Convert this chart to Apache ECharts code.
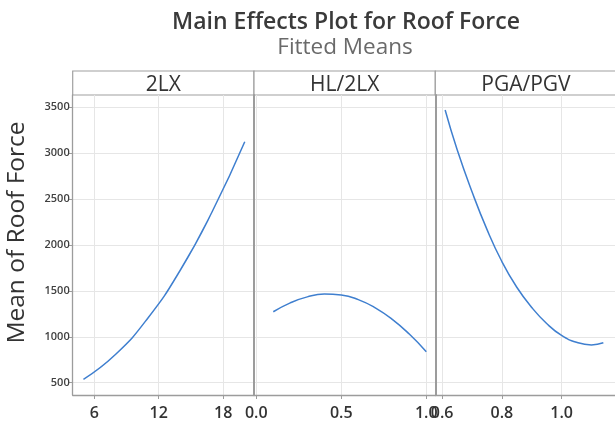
<!DOCTYPE html>
<html><head><meta charset="utf-8">
<script src="https://cdn.jsdelivr.net/npm/echarts@6/dist/echarts.min.js"></script>
<style>html,body{margin:0;padding:0;background:#fff}#c{width:615px;height:421px}</style>
</head><body><div id="c"></div>
<script>
// ---- data ----
const titleText = 'Main Effects Plot for Roof Force';
const subtitleText = 'Fitted Means';
const yAxisTitle = 'Mean of Roof Force';
const panelNames = ['2LX', 'HL/2LX', 'PGA/PGV'];
const yTicks = [500, 1000, 1500, 2000, 2500, 3000, 3500];

const x2LX = [5, 8, 11, 14, 17, 20];
const y2LX = [537, 810, 1205, 1725, 2370, 3125];
const xTicks2LX = [6, 12, 18];

const xHL = [0.1, 0.2, 0.3, 0.4, 0.5, 0.6, 0.7, 0.8, 0.9, 1.0];
const yHL = [1273, 1370, 1435, 1465, 1455, 1405, 1315, 1190, 1030, 838];
const xTicksHL = [0.0, 0.5, 1.0];

const xPGA = [0.61, 0.65, 0.70, 0.75, 0.80, 0.85, 0.90, 0.95, 1.00, 1.05, 1.10, 1.14];
const yPGA = [3470, 3040, 2580, 2170, 1820, 1540, 1320, 1145, 1015, 940, 912, 935];
const xTicksPGA = [0.6, 0.8, 1.0];

// ---- layout ----
const FONT = '"Open Sans", "Noto Sans", sans-serif';
const gridTop = 95, gridH = 300, panelW = 181.3;
const panelLeft = [72.7, 254, 435.3];
const xRanges = [[4.0, 20.86], [-0.0135, 1.053], [0.577, 1.179]];
const yMin = 366, yMax = 3634;
const xTickSets = [xTicks2LX, xTicksHL, xTicksPGA];
const xFmt = [v => String(Math.round(v)), v => v.toFixed(1), v => v.toFixed(1)];
const seriesXY = [[x2LX, y2LX], [xHL, yHL], [xPGA, yPGA]];

const gridLine = { show: true, lineStyle: { color: '#e6e6e6', width: 1 } };
const axisCol = '#9c9c9c';

const grids = [], xAxes = [], yAxes = [], series = [];
for (let i = 0; i < 3; i++) {
  grids.push({ left: panelLeft[i], top: gridTop, width: panelW, height: gridH, containLabel: false });
  xAxes.push({
    type: 'value', gridIndex: i, min: xRanges[i][0], max: xRanges[i][1],
    axisLine: { show: true, onZero: false, lineStyle: { color: axisCol, width: 1.3 } },
    axisTick: { show: true, length: 4, customValues: xTickSets[i], lineStyle: { color: axisCol } },
    axisLabel: { show: true, customValues: xTickSets[i], formatter: xFmt[i], fontSize: 16, fontWeight: 600, color: '#333', fontFamily: FONT, margin: 10, hideOverlap: false },
    splitLine: gridLine
  });
  yAxes.push({
    type: 'value', gridIndex: i, min: yMin, max: yMax,
    axisLine: { show: true, onZero: false, lineStyle: { color: axisCol, width: i === 0 ? 1.3 : 2 } },
    axisTick: { show: i === 0, length: 4, customValues: yTicks, lineStyle: { color: axisCol } },
    axisLabel: { show: i === 0, customValues: yTicks, formatter: v => String(v), fontSize: 11, fontWeight: 600, color: '#404040', fontFamily: FONT, margin: 3 },
    splitLine: gridLine
  });
  series.push({
    type: 'line', xAxisIndex: i, yAxisIndex: i, smooth: 0.5, showSymbol: false,
    lineStyle: { color: '#3f7fcf', width: 1.5 },
    data: seriesXY[i][0].map((x, k) => [x, seriesXY[i][1][k]])
  });
}

const graphics = [];
for (let i = 0; i < 3; i++) {
  graphics.push({ type: 'rect', shape: { x: panelLeft[i], y: 71, width: panelW, height: 24 },
    style: { fill: '#fff', stroke: '#a0a0a0', lineWidth: 1.2 } });
  graphics.push({ type: 'text', x: panelLeft[i] + panelW / 2, y: 85.5,
    style: { text: panelNames[i], font: '400 21px ' + FONT, fill: '#333', textAlign: 'center', textVerticalAlign: 'middle' } });
}
graphics.push({ type: 'text', x: 346, y: 22.5,
  style: { text: titleText, font: '600 23px ' + FONT, fill: '#3a3a3a', textAlign: 'center', textVerticalAlign: 'middle' } });
graphics.push({ type: 'text', x: 345, y: 48,
  style: { text: subtitleText, font: '400 22.5px ' + FONT, fill: '#6a6a6a', textAlign: 'center', textVerticalAlign: 'middle' } });
graphics.push({ type: 'text', x: 17, y: 232.5, rotation: Math.PI / 2,
  style: { text: yAxisTitle, font: '400 24.5px ' + FONT, fill: '#333', textAlign: 'center', textVerticalAlign: 'middle' } });

const chart = echarts.init(document.getElementById('c'), null, { renderer: 'canvas' });
chart.setOption({
  animation: false,
  backgroundColor: '#fff',
  grid: grids, xAxis: xAxes, yAxis: yAxes, series: series,
  graphic: graphics
});
</script></body></html>
